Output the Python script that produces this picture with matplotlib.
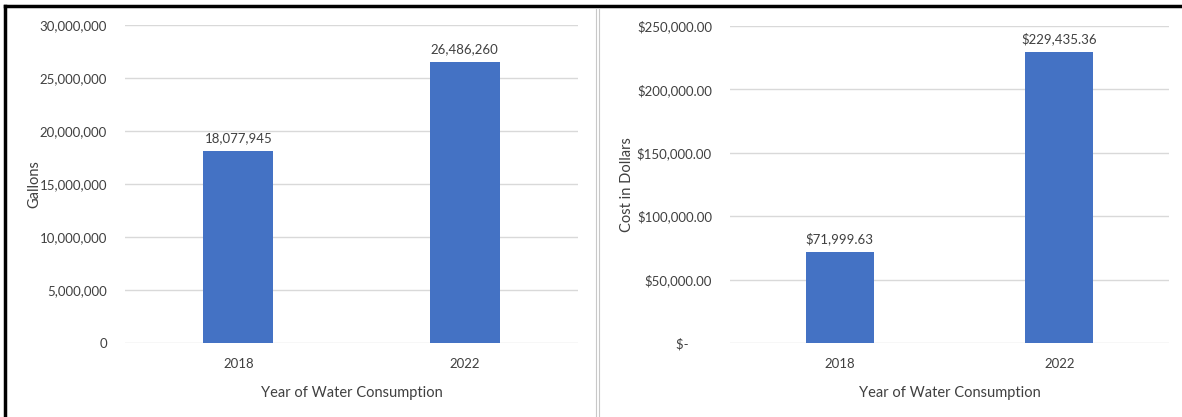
import matplotlib.pyplot as plt
from matplotlib.lines import Line2D
from matplotlib.ticker import FuncFormatter

years = ["2018", "2022"]
gallons = [18077945, 26486260]
cost = [71999.63, 229435.36]

BAR_COLOR = "#4472C4"
GRID_COLOR = "#D9D9D9"
TEXT_COLOR = "#404040"

plt.rcParams['font.family'] = ['Lato', 'DejaVu Sans']
plt.rcParams['font.size'] = 9

fig = plt.figure(figsize=(11.82, 4.17), dpi=100)
W, H = 1182, 417


def px_axes(x0, y0, x1, y1):
    # pixel box (top-left origin) -> figure coords
    return fig.add_axes([x0 / W, 1 - y1 / H, (x1 - x0) / W, (y1 - y0) / H])


def style(ax, ymax, step, fmt, ylabel):
    ax.set_ylim(0, ymax)
    ax.set_xlim(-0.5, 1.5)
    ax.set_yticks([i * step for i in range(int(ymax / step) + 1)])
    ax.yaxis.set_major_formatter(FuncFormatter(fmt))
    ax.grid(axis="y", color=GRID_COLOR, lw=1)
    ax.set_axisbelow(True)
    for s in ax.spines.values():
        s.set_visible(False)
    ax.tick_params(length=0, colors=TEXT_COLOR, labelsize=9.5)
    ax.tick_params(axis="y", pad=13)
    ax.tick_params(axis="x", pad=11)
    ax.set_xlabel("Year of Water Consumption", color=TEXT_COLOR, fontsize=10.5, labelpad=11)
    ax.set_ylabel(ylabel, color=TEXT_COLOR, fontsize=10.5)


# left panel
ax1 = px_axes(125, 25, 578, 343)
ax1.bar(range(len(years)), gallons, width=0.31, color=BAR_COLOR)
ax1.set_xticks(range(len(years)), years)
style(ax1, 30000000, 5000000, lambda v, p: f"{v:,.0f}", "Gallons")
ax1.yaxis.set_label_coords(-0.185, 0.5)
for i, v in enumerate(gallons):
    ax1.annotate(f"{v:,.0f}", (i, v), xytext=(0, 5), textcoords="offset points",
                 ha="center", va="bottom", color=TEXT_COLOR, fontsize=9.5)

# right panel
ax2 = px_axes(730, 26, 1169, 343)


def money(v, p):
    if v == 0:
        return "$-       "
    return f"${v:,.2f}"


ax2.bar(range(len(years)), cost, width=0.31, color=BAR_COLOR)
ax2.set_xticks(range(len(years)), years)
style(ax2, 250000, 50000, money, "Cost in Dollars")
ax2.yaxis.set_label_coords(-0.219, 0.5)
for i, v in enumerate(cost):
    ax2.annotate(f"${v:,.2f}", (i, v), xytext=(0, 5), textcoords="offset points",
                 ha="center", va="bottom", color=TEXT_COLOR, fontsize=9.5)

# panel frames
fig.add_artist(Line2D([5 / W, 1], [1 - 6 / H, 1 - 6 / H], color="black", lw=2.5))
fig.add_artist(Line2D([5 / W, 5 / W], [0, 1 - 6 / H], color="black", lw=2.5))
for x in (596, 599):
    fig.add_artist(Line2D([x / W, x / W], [0, 1 - 9 / H], color="#C8C8C8", lw=0.8))

fig.savefig("out.png", dpi=100)
